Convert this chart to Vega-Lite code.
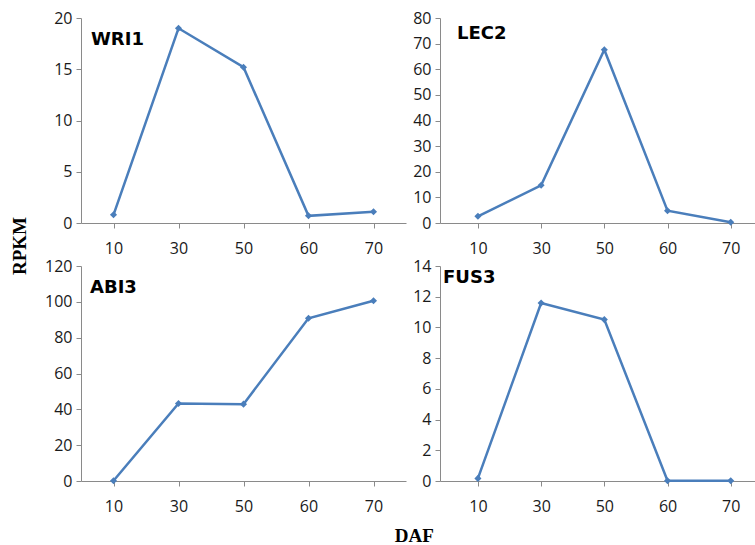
{
  "$schema": "https://vega.github.io/schema/vega-lite/v6.json",
  "background": "white",
  "padding": {"left": 10, "top": 10, "right": 0, "bottom": 0},
  "data": {
    "values": [
      {"gene": "WRI1", "daf": 10, "rpkm": 0.8},
      {"gene": "WRI1", "daf": 30, "rpkm": 19.0},
      {"gene": "WRI1", "daf": 50, "rpkm": 15.2},
      {"gene": "WRI1", "daf": 60, "rpkm": 0.7},
      {"gene": "WRI1", "daf": 70, "rpkm": 1.1},
      {"gene": "LEC2", "daf": 10, "rpkm": 2.6},
      {"gene": "LEC2", "daf": 30, "rpkm": 14.7},
      {"gene": "LEC2", "daf": 50, "rpkm": 67.6},
      {"gene": "LEC2", "daf": 60, "rpkm": 4.8},
      {"gene": "LEC2", "daf": 70, "rpkm": 0.3},
      {"gene": "ABI3", "daf": 10, "rpkm": 0.1},
      {"gene": "ABI3", "daf": 30, "rpkm": 43.3},
      {"gene": "ABI3", "daf": 50, "rpkm": 42.9},
      {"gene": "ABI3", "daf": 60, "rpkm": 90.8},
      {"gene": "ABI3", "daf": 70, "rpkm": 100.6},
      {"gene": "FUS3", "daf": 10, "rpkm": 0.17},
      {"gene": "FUS3", "daf": 30, "rpkm": 11.59},
      {"gene": "FUS3", "daf": 50, "rpkm": 10.51},
      {"gene": "FUS3", "daf": 60, "rpkm": 0.02},
      {"gene": "FUS3", "daf": 70, "rpkm": 0.02}
    ]
  },
  "title": {"text": "DAF", "orient": "bottom", "anchor": "middle", "font": "Liberation Serif", "fontSize": 19, "fontWeight": "bold", "color": "#000", "offset": 13, "dx": 31},
  "vconcat": [
    {
      "title": {"text": "RPKM", "orient": "left", "anchor": "middle", "font": "Liberation Serif", "fontSize": 19, "fontWeight": "bold", "color": "#000", "offset": 15, "dx": 16},
      "columns": 2,
      "spacing": {"row": 2, "column": 6},
      "concat": [
        {
          "width": 325, "height": 205,
          "title": {"text": "WRI1", "anchor": "start", "frame": "group", "baseline": "alphabetic", "offset": -53, "dx": 10},
          "transform": [{"filter": "datum.gene === 'WRI1'"}],
          "mark": {"type": "line", "color": "#4a7ebb", "strokeWidth": 2.5, "point": {"shape": "diamond", "filled": true, "size": 50, "color": "#4a7ebb", "opacity": 1}},
          "encoding": {
            "x": {"field": "daf", "type": "ordinal", "scale": {"type": "point", "padding": 0.5}, "axis": {"title": null, "labelAngle": 0}},
            "y": {"field": "rpkm", "type": "quantitative", "scale": {"domain": [0, 20]}, "axis": {"title": null, "values": [0, 5, 10, 15, 20]}}
          }
        },
        {
          "width": 316, "height": 205,
          "title": {"text": "LEC2", "anchor": "start", "frame": "group", "baseline": "alphabetic", "offset": -47, "dx": 17},
          "transform": [{"filter": "datum.gene === 'LEC2'"}],
          "mark": {"type": "line", "color": "#4a7ebb", "strokeWidth": 2.5, "point": {"shape": "diamond", "filled": true, "size": 50, "color": "#4a7ebb", "opacity": 1}},
          "encoding": {
            "x": {"field": "daf", "type": "ordinal", "scale": {"type": "point", "paddingOuter": 0.4, "align": 0.6}, "axis": {"title": null, "labelAngle": 0}},
            "y": {"field": "rpkm", "type": "quantitative", "scale": {"domain": [0, 80]}, "axis": {"title": null, "values": [0, 10, 20, 30, 40, 50, 60, 70, 80]}}
          }
        },
        {
          "width": 325, "height": 215,
          "title": {"text": "ABI3", "anchor": "start", "frame": "group", "baseline": "alphabetic", "offset": -53, "dx": 9},
          "transform": [{"filter": "datum.gene === 'ABI3'"}],
          "mark": {"type": "line", "color": "#4a7ebb", "strokeWidth": 2.5, "point": {"shape": "diamond", "filled": true, "size": 50, "color": "#4a7ebb", "opacity": 1}},
          "encoding": {
            "x": {"field": "daf", "type": "ordinal", "scale": {"type": "point", "padding": 0.5}, "axis": {"title": null, "labelAngle": 0}},
            "y": {"field": "rpkm", "type": "quantitative", "scale": {"domain": [0, 120]}, "axis": {"title": null, "values": [0, 20, 40, 60, 80, 100, 120]}}
          }
        },
        {
          "width": 316, "height": 215,
          "title": {"text": "FUS3", "anchor": "start", "frame": "group", "baseline": "alphabetic", "offset": -43, "dx": 3},
          "transform": [{"filter": "datum.gene === 'FUS3'"}],
          "mark": {"type": "line", "color": "#4a7ebb", "strokeWidth": 2.5, "point": {"shape": "diamond", "filled": true, "size": 50, "color": "#4a7ebb", "opacity": 1}},
          "encoding": {
            "x": {"field": "daf", "type": "ordinal", "scale": {"type": "point", "paddingOuter": 0.4, "align": 0.6}, "axis": {"title": null, "labelAngle": 0}},
            "y": {"field": "rpkm", "type": "quantitative", "scale": {"domain": [0, 14]}, "axis": {"title": null, "values": [0, 2, 4, 6, 8, 10, 12, 14]}}
          }
        }
      ]
    }
  ],
  "config": {
    "view": {"stroke": null},
    "title": {"font": "DejaVu Sans", "fontSize": 18, "fontWeight": "bold", "color": "#000"},
    "axis": {"grid": false, "domainColor": "#8a8a8a", "tickColor": "#8a8a8a", "domainWidth": 1, "tickWidth": 1, "tickSize": 5, "labelFont": "Open Sans", "labelFontSize": 16, "labelColor": "#1a1a1a"},
    "axisX": {"labelPadding": 12},
    "axisY": {"labelPadding": 4}
  }
}
